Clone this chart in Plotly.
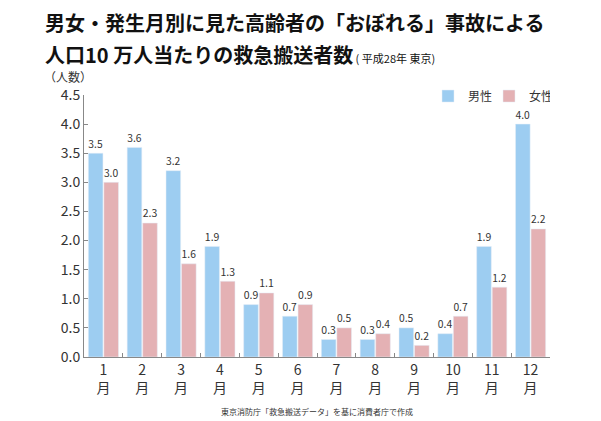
import plotly.graph_objects as go

months = ["1<br>月", "2<br>月", "3<br>月", "4<br>月", "5<br>月", "6<br>月",
          "7<br>月", "8<br>月", "9<br>月", "10<br>月", "11<br>月", "12<br>月"]
male = [3.5, 3.6, 3.2, 1.9, 0.9, 0.7, 0.3, 0.3, 0.5, 0.4, 1.9, 4.0]
female = [3.0, 2.3, 1.6, 1.3, 1.1, 0.9, 0.5, 0.4, 0.2, 0.7, 1.2, 2.2]
y_ticks = [0.0, 0.5, 1.0, 1.5, 2.0, 2.5, 3.0, 3.5, 4.0, 4.5]

FONT = "Noto Sans CJK JP"
TOP, LEFT = 95, 84
fig = go.Figure()
fig.add_bar(x=months, y=male, name="男性", marker_color="#9dcdf1",
            text=[f"{v:.1f}" for v in male], textposition="outside",
            textfont=dict(size=12, color="#333"), cliponaxis=False)
fig.add_bar(x=months, y=female, name="女性", marker_color="#e4b1b4",
            text=[f"{v:.1f}" for v in female], textposition="outside",
            textfont=dict(size=12, color="#333"), cliponaxis=False)

fig.update_layout(
    width=601, height=421,
    margin=dict(l=LEFT, r=51, t=TOP, b=64, autoexpand=False),
    paper_bgcolor="white", plot_bgcolor="white",
    font=dict(family=FONT, color="#333"),
    barmode="group", bargap=0.2, bargroupgap=0.06,
    showlegend=True,
    legend=dict(orientation="h", x=1.0, xanchor="right", y=0.996, yanchor="middle",
                font=dict(size=12, color="#333"), traceorder="normal",
                entrywidth=16, entrywidthmode="pixels",
                bgcolor="rgba(0,0,0,0)"),
)
fig.update_yaxes(range=[0, 4.5], tickvals=y_ticks, ticktext=[f"{v:.1f}" for v in y_ticks],
                 showgrid=False, zeroline=False, showline=True, linecolor="#888",
                 ticks="inside", ticklen=4, tickcolor="#888", automargin=False,
                 tickfont=dict(size=14, color="#333"))
fig.update_xaxes(showgrid=False, showline=True, linecolor="#888",
                 ticks="inside", tickson="boundaries", ticklen=4, tickcolor="#888",
                 automargin=False, tickfont=dict(size=14, color="#333"))

fig.add_annotation(text="<b>男女・発生月別に見た高齢者の「おぼれる」事故による</b>",
                   xref="paper", yref="paper", x=-0.088, y=1.0,
                   xanchor="left", yanchor="middle", showarrow=False,
                   font=dict(size=20, color="#111", family=FONT),
                   yshift=TOP - 22)
fig.add_annotation(text="<b>人口10 万人当たりの救急搬送者数</b><span style='font-size:11px'> ( 平成28年 東京)</span>",
                   xref="paper", yref="paper", x=-0.088, y=1.0,
                   xanchor="left", yanchor="middle", showarrow=False,
                   font=dict(size=20, color="#111", family=FONT),
                   yshift=TOP - 54)
fig.add_annotation(text="（人数）", xref="paper", yref="paper", x=-0.09, y=1.0,
                   xanchor="left", yanchor="middle", showarrow=False,
                   font=dict(size=12, color="#333"), yshift=TOP - 76)
fig.add_annotation(text="東京消防庁「救急搬送データ」を基に消費者庁で作成",
                   xref="paper", yref="paper", x=0.5, y=0,
                   xanchor="center", yanchor="middle", showarrow=False,
                   font=dict(size=8, color="#333"), yshift=357 - 411)

fig.write_html("out.html", config={"displayModeBar": False},
               post_script="document.body.style.margin='0';")
